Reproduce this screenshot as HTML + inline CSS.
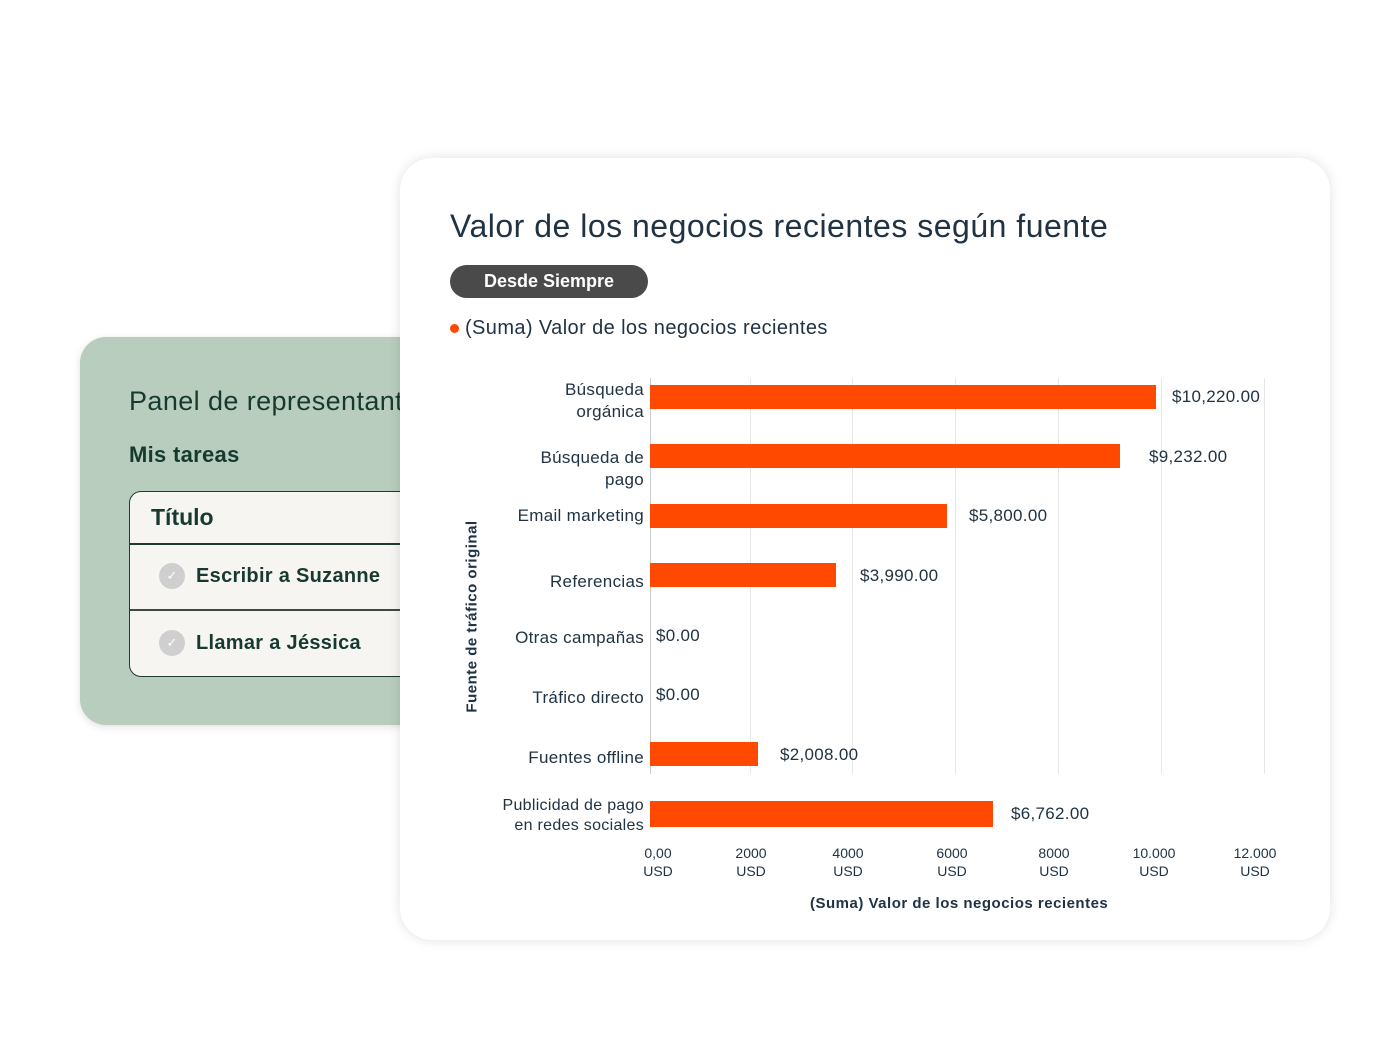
<!DOCTYPE html>
<html><head><meta charset="utf-8"><style>
body{margin:0;width:1400px;height:1050px;background:#fff;position:relative;overflow:hidden;font-family:"Liberation Sans",sans-serif;color:#213343}
.abs{position:absolute}
.left{left:80px;top:337px;width:360px;height:388px;background:#b8cdbd;border-radius:26px;box-shadow:0 2px 8px rgba(0,0,0,.12)}
.card{left:400px;top:158px;width:930px;height:782px;background:#fff;border-radius:32px;box-shadow:0 0 12px rgba(0,0,0,.12)}
.tbl{left:129px;top:491px;width:300px;height:184px;background:#f6f5f2;border:1.5px solid #1f3a32;border-radius:12px;overflow:hidden}
.dk{color:#173a30}
.lbl{font-size:17px;text-align:right;line-height:22px;color:#213343;letter-spacing:0.3px}
.bar{background:#ff4800;height:24px;left:650px}
.val{font-size:17px;color:#213343;letter-spacing:0.3px}
.grid{width:1px;background:#e6e6e6;top:378px;height:396px}
.tick{font-size:14px;text-align:center;width:70px;line-height:18px;top:844px}
.chk{width:26px;height:26px;border-radius:50%;background:#cfcfcf;color:#fff;font-size:13px;text-align:center;line-height:26px}
</style></head><body>
<div class="abs left"></div>
<div class="abs dk" style="left:129px;top:386px;font-size:27px;letter-spacing:0.4px;white-space:nowrap">Panel de representantes</div>
<div class="abs dk" style="left:129px;top:442px;font-size:22px;font-weight:bold;letter-spacing:0.3px">Mis tareas</div>
<div class="abs tbl">
 <div class="abs dk" style="left:21px;top:12px;font-size:23px;font-weight:bold">Título</div>
 <div class="abs" style="left:0;top:51px;width:100%;height:1.5px;background:#1f3a32"></div>
 <div class="abs chk" style="left:29px;top:71px">✓</div>
 <div class="abs dk" style="left:66px;top:73px;font-size:20px;font-weight:bold;letter-spacing:0.3px">Escribir a Suzanne</div>
 <div class="abs" style="left:0;top:117px;width:100%;height:1.5px;background:#3a4a45"></div>
 <div class="abs chk" style="left:29px;top:138px">✓</div>
 <div class="abs dk" style="left:66px;top:140px;font-size:20px;font-weight:bold;letter-spacing:0.3px">Llamar a Jéssica</div>
</div>
<div class="abs card"></div>
<div class="abs" style="left:450px;top:208px;font-size:32px;letter-spacing:0.5px;color:#213343">Valor de los negocios recientes según fuente</div>
<div class="abs" style="left:450px;top:265px;width:198px;height:33px;border-radius:17px;background:#4a4a4a;color:#fff;font-size:18px;font-weight:bold;text-align:center;line-height:33px">Desde Siempre</div>
<div class="abs" style="left:450px;top:324px;width:9px;height:9px;border-radius:50%;background:#ff4800"></div>
<div class="abs" style="left:465px;top:317px;font-size:20px;letter-spacing:0.4px">(Suma) Valor de los negocios recientes</div>
<div class="abs" style="left:362px;top:608px;width:220px;text-align:center;transform:rotate(-90deg);font-size:15px;font-weight:bold;letter-spacing:0.5px">Fuente de tráfico original</div>
<div class="abs grid" style="left:650px;background:#ccc"></div>
<div class="abs grid" style="left:750px"></div><div class="abs grid" style="left:852px"></div>
<div class="abs grid" style="left:955px"></div><div class="abs grid" style="left:1058px"></div>
<div class="abs grid" style="left:1161px"></div><div class="abs grid" style="left:1264px"></div>
<div class="abs lbl" style="right:756px;top:379px">Búsqueda<br>orgánica</div>
<div class="abs lbl" style="right:756px;top:447px">Búsqueda de<br>pago</div>
<div class="abs lbl" style="right:756px;top:505px">Email marketing</div>
<div class="abs lbl" style="right:756px;top:571px">Referencias</div>
<div class="abs lbl" style="right:756px;top:627px">Otras campañas</div>
<div class="abs lbl" style="right:756px;top:687px">Tráfico directo</div>
<div class="abs lbl" style="right:756px;top:747px">Fuentes offline</div>
<div class="abs lbl" style="right:756px;top:796px;font-size:16px;line-height:20px">Publicidad de pago<br>en redes sociales</div>
<div class="abs bar" style="top:385px;width:506px"></div>
<div class="abs bar" style="top:444px;width:470px"></div>
<div class="abs bar" style="top:504px;width:297px"></div>
<div class="abs bar" style="top:563px;width:186px"></div>
<div class="abs bar" style="top:742px;width:108px"></div>
<div class="abs bar" style="top:801px;width:343px;height:26px"></div>
<div class="abs val" style="left:1172px;top:387px">$10,220.00</div>
<div class="abs val" style="left:1149px;top:447px">$9,232.00</div>
<div class="abs val" style="left:969px;top:506px">$5,800.00</div>
<div class="abs val" style="left:860px;top:566px">$3,990.00</div>
<div class="abs val" style="left:656px;top:626px">$0.00</div>
<div class="abs val" style="left:656px;top:685px">$0.00</div>
<div class="abs val" style="left:780px;top:745px">$2,008.00</div>
<div class="abs val" style="left:1011px;top:804px">$6,762.00</div>
<div class="abs tick" style="left:623px">0,00<br>USD</div>
<div class="abs tick" style="left:716px">2000<br>USD</div>
<div class="abs tick" style="left:813px">4000<br>USD</div>
<div class="abs tick" style="left:917px">6000<br>USD</div>
<div class="abs tick" style="left:1019px">8000<br>USD</div>
<div class="abs tick" style="left:1119px">10.000<br>USD</div>
<div class="abs tick" style="left:1220px">12.000<br>USD</div>
<div class="abs" style="left:810px;top:895px;font-size:15px;font-weight:bold;letter-spacing:0.5px">(Suma) Valor de los negocios recientes</div>
</body></html>
